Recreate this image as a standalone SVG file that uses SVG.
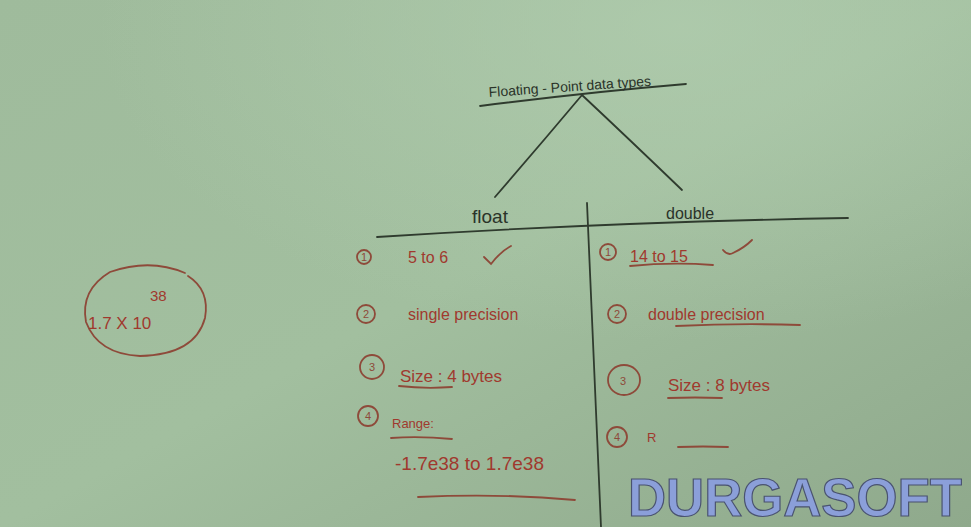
<svg xmlns="http://www.w3.org/2000/svg" width="971" height="527" viewBox="0 0 971 527">
<defs>
<linearGradient id="bg" x1="0" y1="0" x2="1" y2="1">
<stop offset="0" stop-color="#9fbb9c"/>
<stop offset="0.5" stop-color="#a2bf9f"/>
<stop offset="1" stop-color="#8fa98c"/>
</linearGradient>
<radialGradient id="glow" cx="0.7" cy="0.05" r="0.6">
<stop offset="0" stop-color="#b2ceb0" stop-opacity="0.7"/>
<stop offset="1" stop-color="#b2ceb0" stop-opacity="0"/>
</radialGradient>
</defs>
<style>
.ink{fill:none;stroke:#2f3b2e;stroke-width:1.8;stroke-linecap:round}
.red{fill:none;stroke:#8e4a3a;stroke-width:1.8;stroke-linecap:round}
.hw{font-family:"Liberation Sans",Arial,sans-serif;fill:#a0392e}
.blk{font-family:"Liberation Sans",Arial,sans-serif;fill:#2a3329}
.num{font-family:"Liberation Sans",Arial,sans-serif;fill:#8e4a3a;font-size:11px;text-anchor:middle}
</style>
<rect width="971" height="527" fill="url(#bg)"/>
<rect width="971" height="527" fill="url(#glow)"/>

<g id="connectors">
<path class="ink" d="M480 106 Q590 92 686 84"/>
<path class="ink" d="M582 95 Q540 145 495 197"/>
<path class="ink" d="M582 95 Q630 140 682 190"/>
<path class="ink" d="M377 237 Q610 222 848 218"/>
<path class="ink" d="M587 203 Q594 360 601 527"/>
</g>

<g id="title">
<text class="blk" x="489" y="97" font-size="14" transform="rotate(-4 489 97)">Floating - Point data types</text>
</g>

<g id="float">
<text class="blk" x="472" y="223" font-size="19">float</text>
</g>
<g id="double">
<text class="blk" x="666" y="219" font-size="16">double</text>
</g>

<g id="float-1">
<circle class="red" cx="364" cy="257" r="7"/><text class="num" x="364" y="261">1</text>
<text class="hw" x="408" y="263" font-size="16">5 to 6</text>
<path class="red" d="M484 257 L491 264 Q500 252 511 246"/>
</g>
<g id="float-2">
<circle class="red" cx="366" cy="314" r="9"/><text class="num" x="366" y="318">2</text>
<text class="hw" x="408" y="320" font-size="16">single precision</text>
</g>
<g id="float-3">
<circle class="red" cx="372" cy="367" r="12"/><text class="num" x="372" y="371">3</text>
<text class="hw" x="400" y="382" font-size="17">Size : 4 bytes</text>
<path class="red" d="M399 386 Q425 389 452 387"/>
</g>
<g id="float-4">
<circle class="red" cx="368" cy="416" r="10"/><text class="num" x="368" y="420">4</text>
<text class="hw" x="392" y="428" font-size="13">Range:</text>
<path class="red" d="M391 438 Q420 436 452 439"/>
<text class="hw" x="395" y="470" font-size="19">-1.7e38 to 1.7e38</text>
<path class="red" d="M418 497 Q500 493 575 500"/>
</g>

<g id="double-1">
<circle class="red" cx="608" cy="252" r="8"/><text class="num" x="608" y="256">1</text>
<text class="hw" x="630" y="262" font-size="16">14 to 15</text>
<path class="red" d="M630 266 Q672 262 713 265"/>
<path class="red" d="M723 250 Q728 256 733 253 Q744 248 752 240"/>
</g>
<g id="double-2">
<circle class="red" cx="617" cy="314" r="9"/><text class="num" x="617" y="318">2</text>
<text class="hw" x="648" y="320" font-size="16">double precision</text>
<path class="red" d="M676 326 Q740 323 800 325"/>
</g>
<g id="double-3">
<ellipse class="red" cx="624" cy="380" rx="16" ry="15"/><text class="num" x="623" y="385" font-size="13">3</text>
<text class="hw" x="668" y="391" font-size="17">Size : 8 bytes</text>
<path class="red" d="M668 398 Q695 397 722 398"/>
</g>
<g id="double-4">
<circle class="red" cx="617" cy="437" r="10"/><text class="num" x="617" y="441">4</text>
<text class="hw" x="647" y="442" font-size="13">R</text>
<path class="red" d="M678 447 Q703 446 728 447"/>
</g>

<g id="note">
<path class="red" d="M185 273 Q150 258 110 272 Q80 290 86 322 Q98 354 140 356 Q195 355 205 318 Q210 290 188 276"/>
<text class="hw" x="88" y="329" font-size="17">1.7 X 10</text>
<text class="hw" x="150" y="301" font-size="15">38</text>
</g>

<g id="watermark">
<text x="628" y="516" font-family="'Liberation Sans',Arial,sans-serif" font-weight="bold" font-size="54" textLength="334" lengthAdjust="spacingAndGlyphs" fill="#8b9fd9" stroke="#4a5370" stroke-width="1.2">DURGASOFT</text>
</g>
</svg>
